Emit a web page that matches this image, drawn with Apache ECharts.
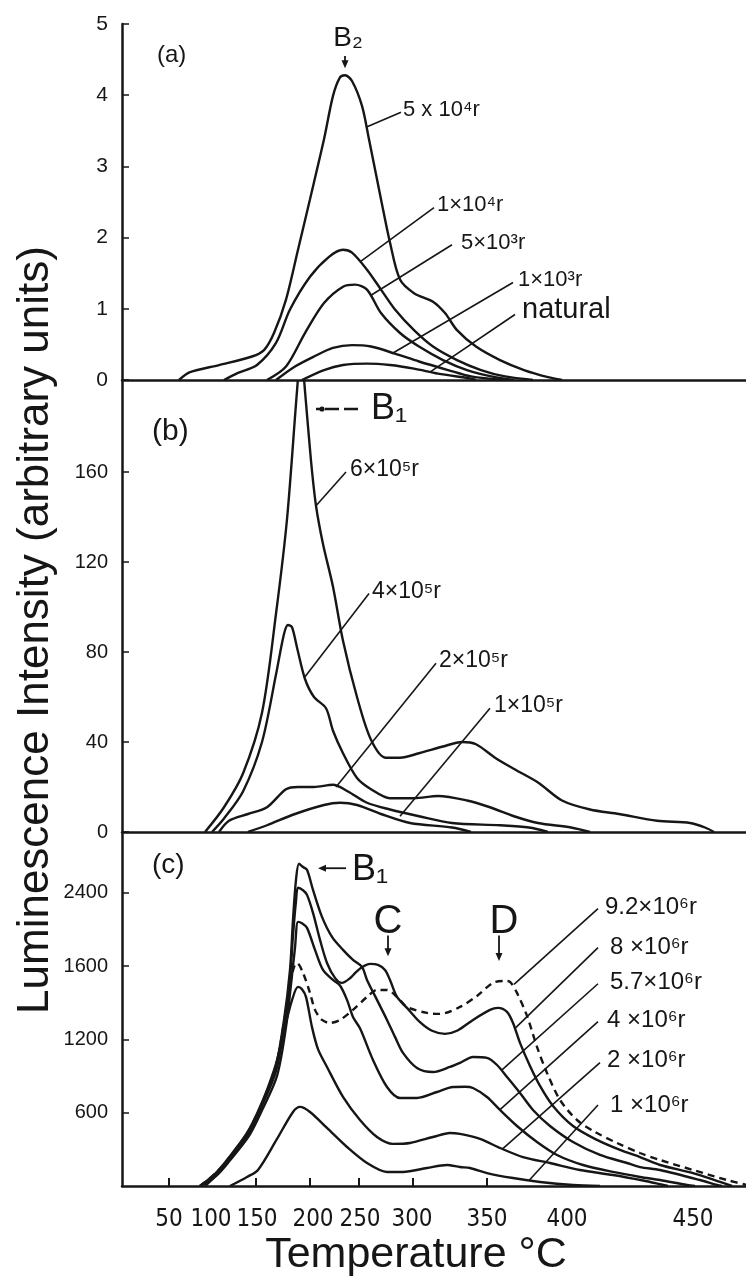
<!DOCTYPE html>
<html lang="en">
<head>
<meta charset="UTF-8">
<title>Glow curves</title>
<script src="https://cdn.jsdelivr.net/npm/echarts@6/dist/echarts.min.js"></script>
<style>
    html,body{margin:0;padding:0;background:#fff;}
    #chart{width:746px;height:1282px;}
</style>
</head>
<body>
<div id="chart"></div>
<script>
// The temperature scale of the original figure is not linear, so x is the
// position along the axis; temperature labels sit where they were printed.
var tempTickPos  = [169, 211, 257, 313, 360, 412, 487, 567, 693];
var tempTickText = ['50', '100', '150', '200', '250', '300', '350', '400', '450'];
var tempTickMarks = [169, 256, 310, 359, 413, 487];

var yTicksA = [0, 1, 2, 3, 4, 5];
var yTicksB = [0, 40, 80, 120, 160];
var yTicksC = [600, 1200, 1800, 2400];
var yTextC  = ['600', '1200', '1600', '2400'];

// (a)
var a_5e4 = [[179,0],[190,0.11],[219,0.21],[252,0.33],[264,0.42],[274,0.66],[286,1.13],[298,1.83],[310,2.54],[324,3.38],[333,3.99],[340,4.25],[345,4.28],[352,4.2],[362,3.85],[369,3.38],[381,2.54],[390,1.93],[400,1.41],[414,1.22],[433,1.10],[445,0.94],[457,0.70],[476,0.47],[500,0.28],[524,0.14],[548,0.04],[562,0]];
var a_1e4 = [[224,0],[238,0.1],[257,0.21],[276,0.52],[290,0.99],[310,1.45],[329,1.73],[343,1.83],[352,1.79],[367,1.55],[381,1.27],[395,0.99],[414,0.7],[433,0.47],[457,0.28],[481,0.14],[505,0.05],[533,0]];
var a_5e3 = [[267,0],[286,0.19],[305,0.66],[324,1.08],[343,1.31],[355,1.34],[367,1.27],[381,0.94],[400,0.66],[419,0.47],[443,0.28],[467,0.14],[495,0.04],[514,0]];
var a_1e3 = [[276,0],[295,0.19],[314,0.33],[333,0.45],[352,0.49],[371,0.47],[395,0.37],[419,0.26],[448,0.14],[471,0.05],[505,0]];
var a_nat = [[302,0],[324,0.14],[343,0.21],[367,0.23],[390,0.21],[414,0.16],[438,0.09],[471,0.02],[476,0]];

// (b)
var b_6e5 = [[205,0],[224,11],[243,26],[262,53],[276,97],[287,139],[297,196],[301,215],[305,196],[311,165],[316,145],[323,128],[333,109],[343,85],[357,60],[371,41],[386,33],[400,33],[419,35],[443,38],[462,40],[476,39],[495,33],[514,28],[538,22],[562,14],[590,10],[619,8],[657,5],[690,4],[705,2],[714,0]];
var b_4e5 = [[212,0],[224,6],[243,18],[262,40],[276,70],[284,88],[288,92],[292,91],[297,82],[305,68],[314,60],[326,55],[333,45],[343,35],[357,24],[371,19],[390,15],[414,15],[438,16],[467,14],[490,11],[514,7],[538,4],[571,2],[590,0]];
var b_2e5 = [[219,0],[229,5],[248,8],[267,11],[286,19],[298,20],[314,20],[333,21],[348,18],[367,13],[390,10],[419,7],[452,4],[500,3],[529,2],[548,0]];
var b_1e5 = [[248,0],[267,3],[295,8],[324,12],[340,13],[357,12],[381,8],[410,4],[452,2],[471,0]];

// (c)
var c_92 = [[200,0],[215,100],[227,210],[247,430],[260,640],[275,940],[284,1340],[290,1650],[294,1790],[297,1825],[303,1744],[310,1580],[315,1441],[322,1359],[330,1334],[340,1359],[353,1441],[367,1547],[377,1604],[387,1604],[397,1547],[407,1465],[427,1416],[440,1408],[460,1465],[477,1555],[493,1662],[505,1678],[510,1670],[517,1580],[527,1392],[537,1138],[547,925],[560,704],[577,540],[595,442],[617,352],[640,270],[660,213],[693,131],[727,49],[746,10]];
var c_8 = [[200,0],[216,95],[228,205],[248,425],[261,640],[276,940],[285,1340],[290,1700],[293,2050],[296,2330],[298,2440],[303,2420],[307,2382],[313,2235],[320,2014],[327,1825],[335,1703],[342,1662],[350,1700],[356,1750],[362,1790],[370,1817],[378,1809],[385,1768],[390,1686],[397,1547],[407,1457],[420,1340],[432,1270],[445,1245],[457,1270],[473,1359],[490,1441],[498,1457],[507,1424],[513,1334],[520,1171],[530,982],[540,819],[553,655],[573,491],[597,377],[620,295],[640,237],[660,172],[693,106],[720,33],[732,0]];
var c_57 = [[200,0],[215,100],[227,213],[247,434],[260,647],[275,950],[284,1359],[290,1768],[293,2177],[296,2505],[299,2636],[303,2610],[307,2587],[313,2423],[322,2202],[332,2038],[343,1932],[353,1850],[362,1793],[367,1686],[377,1523],[387,1359],[395,1220],[403,1089],[417,966],[433,933],[450,974],[460,1007],[473,1056],[487,1048],[497,990],[507,892],[520,761],[533,622],[550,491],[573,360],[600,254],[627,188],[640,155],[660,131],[700,49],[717,8],[722,0]];
var c_4 = [[201,0],[217,90],[229,200],[249,410],[262,620],[277,900],[286,1300],[291,1650],[295,1950],[298,2161],[302,2150],[307,2112],[315,1932],[323,1768],[333,1686],[340,1640],[347,1523],[353,1383],[360,1290],[373,1031],[387,810],[400,720],[417,720],[437,769],[453,810],[465,812],[473,802],[487,728],[500,622],[517,491],[537,360],[557,254],[583,172],[613,115],[640,74],[660,49],[687,8],[695,0]];
var c_2 = [[205,0],[218,100],[230,230],[250,450],[263,700],[276,1000],[285,1300],[292,1520],[298,1629],[302,1610],[306,1547],[312,1300],[318,1120],[327,974],[343,729],[360,540],[377,401],[393,345],[410,352],[433,401],[450,434],[460,426],[480,385],[500,311],[523,237],[550,188],[580,131],[613,90],[643,45],[660,15],[668,0]];
var c_1 = [[230,0],[247,74],[258,131],[277,385],[293,606],[300,647],[310,606],[327,475],[347,319],[367,188],[387,115],[403,115],[427,147],[447,172],[460,155],[470,147],[487,106],[513,65],[540,33],[573,8],[600,0]];

var INK = '#161616';
var FONT = "'Liberation Sans', 'DejaVu Sans', sans-serif";
var NARROW = "'Liberation Sans Narrow', 'DejaVu Sans Condensed', sans-serif";

var myChart = echarts.init(document.getElementById('chart'), null, {renderer: 'canvas'});

function curve(name, data, idx, dashed) {
    return {
        name: name, type: 'line', xAxisIndex: idx, yAxisIndex: idx,
        data: data, showSymbol: false, smooth: 0.3, clip: true, silent: true,
        lineStyle: {color: INK, width: 2.4, type: dashed ? [7, 5] : 'solid'}
    };
}

function xAxisFor(idx) {
    var last = idx === 2;
    return {
        type: 'value', gridIndex: idx, min: 122, max: 746,
        splitLine: {show: false},
        axisLine: {show: true, onZero: false, lineStyle: {color: INK, width: 2.5}},
        axisTick: {show: last, inside: true, length: 8, customValues: tempTickMarks,
            lineStyle: {color: INK, width: 2}},
        axisLabel: {show: last, customValues: tempTickPos, margin: 22, color: INK,
            fontFamily: NARROW, fontSize: 24,
            formatter: function (v) {
                var i = tempTickPos.indexOf(v);
                return i >= 0 ? tempTickText[i] : '';
            }}
    };
}

function yAxisFor(idx, max, ticks, texts, size) {
    return {
        type: 'value', gridIndex: idx, min: 0, max: max,
        splitLine: {show: false},
        axisLine: {show: true, onZero: false, lineStyle: {color: INK, width: 2.5}},
        axisTick: {show: true, inside: true, length: 7, customValues: ticks,
            lineStyle: {color: INK, width: 1.5}},
        axisLabel: {customValues: ticks, margin: 14, color: INK,
            fontFamily: FONT, fontSize: size,
            formatter: function (v) {
                var i = ticks.indexOf(v);
                return texts ? texts[i] : String(v);
            }}
    };
}

var option = {
    animation: false,
    backgroundColor: '#fff',
    grid: [
        {left: 122, right: 0, top: 24, height: 356, containLabel: false, outerBoundsMode: 'none'},
        {left: 122, right: 0, top: 382, height: 450, containLabel: false, outerBoundsMode: 'none'},
        {left: 122, right: 0, top: 834, height: 352, containLabel: false, outerBoundsMode: 'none'}
    ],
    xAxis: [xAxisFor(0), xAxisFor(1), xAxisFor(2)],
    yAxis: [
        yAxisFor(0, 5, yTicksA, null, 21),
        yAxisFor(1, 200, yTicksB, null, 20),
        yAxisFor(2, 2880, yTicksC, yTextC, 20)
    ],
    series: [
        curve('5×10⁴r', a_5e4, 0), curve('1×10⁴r', a_1e4, 0), curve('5×10³r', a_5e3, 0),
        curve('1×10³r', a_1e3, 0), curve('natural', a_nat, 0),
        curve('6×10⁵r', b_6e5, 1), curve('4×10⁵r', b_4e5, 1), curve('2×10⁵r', b_2e5, 1),
        curve('1×10⁵r', b_1e5, 1),
        curve('9.2×10⁶r', c_92, 2, true), curve('8×10⁶r', c_8, 2), curve('5.7×10⁶r', c_57, 2),
        curve('4×10⁶r', c_4, 2), curve('2×10⁶r', c_2, 2), curve('1×10⁶r', c_1, 2)
    ]
};
myChart.setOption(option);

// labels with leader lines, in data coordinates of each panel
var notes = [
    {g: 0, text: '5 x 10⁴r', at: [403, 3.80], from: [401, 3.76], to: [366, 3.55], size: 22},
    {g: 0, text: '1×10⁴r', at: [437, 2.46], from: [434, 2.42], to: [360, 1.66], size: 22},
    {g: 0, text: '5×10³r', at: [461, 1.93], from: [452, 1.9], to: [371, 1.19], size: 22},
    {g: 0, text: '1×10³r', at: [518, 1.41], from: [513, 1.37], to: [393, 0.38], size: 22},
    {g: 0, text: 'natural', at: [522, 0.99], from: [515, 0.92], to: [431, 0.12], size: 29},
    {g: 1, text: '6×10⁵r', at: [350, 161], from: [346, 160], to: [316, 145], size: 23},
    {g: 1, text: '4×10⁵r', at: [372, 107], from: [369, 106], to: [305, 69], size: 23},
    {g: 1, text: '2×10⁵r', at: [439, 76], from: [436, 75], to: [336, 20], size: 23},
    {g: 1, text: '1×10⁵r', at: [494, 56], from: [490, 55], to: [400, 7], size: 23},
    {g: 2, text: '9.2×10⁶r', at: [605, 2276], from: [598, 2270], to: [514, 1650], size: 24},
    {g: 2, text: '8 ×10⁶r', at: [610, 1956], from: [598, 1950], to: [515, 1290], size: 24},
    {g: 2, text: '5.7×10⁶r', at: [610, 1662], from: [598, 1655], to: [502, 950], size: 24},
    {g: 2, text: '4 ×10⁶r', at: [607, 1359], from: [598, 1345], to: [500, 625], size: 24},
    {g: 2, text: '2 ×10⁶r', at: [607, 1031], from: [600, 1010], to: [502, 300], size: 24},
    {g: 2, text: '1 ×10⁶r', at: [610, 663], from: [598, 663], to: [529, 45], size: 24}
];
var marks = [
    {g: 0, text: '(a)', at: [157, 4.56], size: 24, align: 'left'},
    {g: 0, text: 'B₂', at: [348, 4.80], size: 28, align: 'center'},
    {g: 1, text: '(b)', at: [152, 178], size: 30, align: 'left'},
    {g: 1, text: 'B₁', at: [371, 188], size: 36, align: 'left'},
    {g: 2, text: '(c)', at: [152, 2628], size: 28, align: 'left'},
    {g: 2, text: 'B₁', at: [352, 2587], size: 36, align: 'left'},
    {g: 2, text: 'C', at: [388, 2161], size: 40, align: 'center'},
    {g: 2, text: 'D', at: [504, 2161], size: 40, align: 'center'}
];
var arrows = [
    {g: 0, from: [345, 4.55], to: [345, 4.38], dash: false},
    {g: 1, from: [358, 188], to: [322, 188], dash: true},
    {g: 2, from: [346, 2600], to: [318, 2600], dash: false},
    {g: 2, from: [388, 2050], to: [388, 1880], dash: false},
    {g: 2, from: [499, 2050], to: [499, 1840], dash: false}
];

function px(g, p) {
    return myChart.convertToPixel({gridIndex: g}, p);
}

function textEl(x, y, text, size, align, font) {
    return {
        type: 'text', x: x, y: y, silent: true,
        style: {text: text, fill: INK, font: size + 'px ' + (font || FONT),
            textAlign: align, textVerticalAlign: 'middle', align: align, verticalAlign: 'middle'}
    };
}

var els = [];
notes.forEach(function (n) {
    var t = px(n.g, n.at), a = px(n.g, n.from), b = px(n.g, n.to);
    els.push({type: 'line', silent: true, shape: {x1: a[0], y1: a[1], x2: b[0], y2: b[1]},
        style: {stroke: INK, lineWidth: 1.6}});
    els.push(textEl(t[0], t[1], n.text, n.size, 'left'));
});
marks.forEach(function (m) {
    var t = px(m.g, m.at);
    els.push(textEl(t[0], t[1], m.text, m.size, m.align));
});
arrows.forEach(function (r) {
    var a = px(r.g, r.from), b = px(r.g, r.to);
    var dx = b[0] - a[0], dy = b[1] - a[1], L = Math.sqrt(dx * dx + dy * dy);
    var ux = dx / L, uy = dy / L, h = 8, w = 3.5;
    if (r.dash) {
        els.push({type: 'line', silent: true, shape: {x1: a[0], y1: a[1], x2: b[0] + ux * 6, y2: b[1]},
            style: {stroke: INK, lineWidth: 2.5, lineDash: [14, 5]}});
        els.push({type: 'circle', silent: true, shape: {cx: b[0], cy: b[1], r: 2.6}, style: {fill: INK}});
        return;
    }
    els.push({type: 'line', silent: true, shape: {x1: a[0], y1: a[1], x2: b[0] - ux * h * 0.6, y2: b[1] - uy * h * 0.6},
        style: {stroke: INK, lineWidth: 1.8}});
    els.push({type: 'polygon', silent: true, shape: {points: [
        [b[0], b[1]],
        [b[0] - ux * h - uy * w, b[1] - uy * h + ux * w],
        [b[0] - ux * h + uy * w, b[1] - uy * h - ux * w]
    ]}, style: {fill: INK}});
});

// axis titles
els.push({type: 'text', x: 36, y: 630, rotation: Math.PI / 2, silent: true,
    style: {text: 'Luminescence Intensity (arbitrary units)', fill: INK, font: '44px ' + FONT,
        textAlign: 'center', textVerticalAlign: 'middle', align: 'center', verticalAlign: 'middle'}});
els.push(textEl(416, 1255, 'Temperature °C', 43, 'center'));

myChart.setOption({graphic: {elements: els}});
</script>
</body>
</html>
